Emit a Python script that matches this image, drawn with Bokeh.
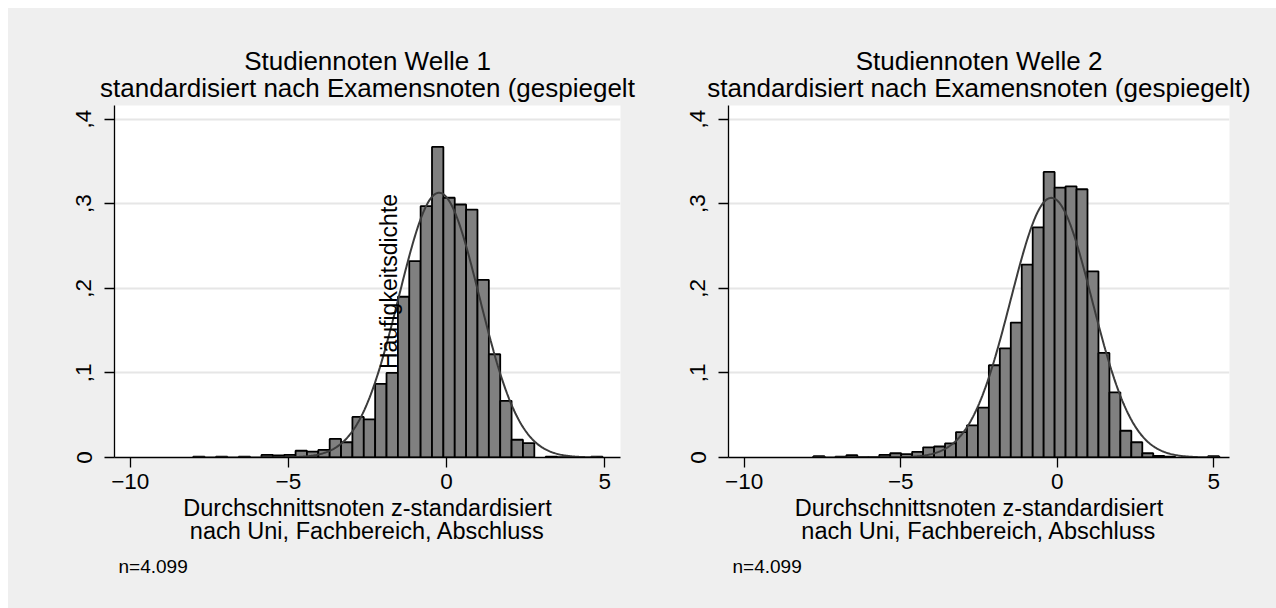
import numpy as np
from bokeh.plotting import figure
from bokeh.models import Range1d, FixedTicker, Label, ColumnDataSource, Title, LinearAxis
from bokeh.layouts import row
from bokeh.embed import file_html
from bokeh.resources import INLINE

FONT = "Liberation Sans"

# ---------------- data ----------------
x_ticks = [-10, -5, 0, 5]
y_ticks = [0, 0.1, 0.2, 0.3, 0.4]
y_tick_labels = ["0", ",1", ",2", ",3", ",4"]

titles_w1 = ["Studiennoten Welle 1", "standardisiert nach Examensnoten (gespiegelt"]
titles_w2 = ["Studiennoten Welle 2", "standardisiert nach Examensnoten (gespiegelt)"]
x_title = ["Durchschnittsnoten z-standardisiert", "nach Uni, Fachbereich, Abschluss"]
y_title = "Häufigkeitsdichte"
n_note = "n=4.099"

# Welle 1 histogram (density per bin)
w1_bin_start = -8.01
w1_bin_width = 0.3595
w1_density = [0.001, 0.0, 0.001, 0.0, 0.001, 0.0, 0.003, 0.0024, 0.003, 0.008,
              0.007, 0.009, 0.022, 0.018, 0.048, 0.045, 0.087, 0.100, 0.190, 0.232,
              0.297, 0.367, 0.307, 0.299, 0.293, 0.210, 0.122, 0.067, 0.021, 0.017,
              0.0, 0.001, 0.0005, 0.0, 0.0, 0.001]
w1_mean = -0.236
w1_sd = 1.275

# Welle 2 histogram (density per bin)
w2_bin_start = -7.785
w2_bin_width = 0.35
w2_density = [0.0015, 0.0, 0.001, 0.0028, 0.0005, 0.0005, 0.003, 0.005, 0.004, 0.0067,
              0.012, 0.013, 0.0166, 0.030, 0.038, 0.059, 0.109, 0.129, 0.1595, 0.228,
              0.272, 0.3375, 0.319, 0.3205, 0.317, 0.220, 0.1236, 0.077, 0.0316, 0.018,
              0.005, 0.002, 0.001, 0.0, 0.0, 0.0, 0.0015]
w2_mean = -0.19
w2_sd = 1.30

# ---------------- layout constants ----------------
X0, X1 = -10.5, 5.5
Y1 = 0.416
FIG_W, FIG_H = 634, 600
MB_TOP, FRAME_H = 97, 352
BG = "#efefef"
PAGE_OFF = 8


def make_panel(fig_left_page, mb_left, frame_w, y_standoff, bin_start, bin_width,
               density, mu, sd, titles, show_ytitle):
    mb_right = FIG_W - mb_left - frame_w
    mb_bottom = FIG_H - MB_TOP - FRAME_H
    p = figure(width=FIG_W, height=FIG_H, x_range=Range1d(X0, X1), y_range=Range1d(0, Y1),
               output_backend="svg", toolbar_location=None,
               min_border_left=mb_left, min_border_right=mb_right,
               min_border_top=MB_TOP, min_border_bottom=mb_bottom,
               background_fill_color="white", border_fill_color=BG,
               outline_line_color=None)

    frame_left = fig_left_page + mb_left
    frame_bottom = PAGE_OFF + MB_TOP + FRAME_H

    def dx(page_x):
        return X0 + (page_x - frame_left) * (X1 - X0) / frame_w

    def dy(page_y):
        return (frame_bottom - page_y) * Y1 / FRAME_H

    # grid
    p.xgrid.visible = False
    p.ygrid.ticker = FixedTicker(ticks=y_ticks[1:])
    p.ygrid.grid_line_color = "#e6e6e6"
    p.ygrid.grid_line_width = 2

    # histogram
    lefts, rights, tops = [], [], []
    for i, h in enumerate(density):
        if h > 0:
            lefts.append(bin_start + i * bin_width)
            rights.append(bin_start + (i + 1) * bin_width)
            tops.append(h)
    src = ColumnDataSource(dict(left=lefts, right=rights, top=tops, bottom=[0] * len(tops)))
    p.quad(left="left", right="right", top="top", bottom="bottom", source=src,
           fill_color="#808080", line_color="black", line_width=1.8)

    # normal density overlay
    xmin = bin_start
    xmax = bin_start + len(density) * bin_width
    xs = np.linspace(xmin, xmax, 400)
    ys = np.exp(-0.5 * ((xs - mu) / sd) ** 2) / (sd * np.sqrt(2 * np.pi))
    p.line(xs, ys, line_color="#3c3c3c", line_width=2)

    # axes
    for ax in (p.xaxis[0], p.yaxis[0]):
        ax.axis_line_color = "black"
        ax.axis_line_width = 1.3
        ax.major_tick_line_color = "black"
        ax.major_tick_line_width = 1.3
        ax.major_tick_out = 10
        ax.major_tick_in = 0
        ax.minor_tick_line_color = None
        ax.major_label_text_font = FONT
        ax.major_label_text_color = "black"
        ax.major_label_text_font_size = "22.5px"
    p.xaxis.ticker = FixedTicker(ticks=x_ticks)
    p.xaxis.major_label_standoff = 6
    p.xaxis.axis_label = x_title[0] + "\n" + x_title[1]
    p.xaxis.axis_label_text_font = FONT
    p.xaxis.axis_label_text_font_size = "23.5px"
    p.xaxis.axis_label_text_font_style = "normal"
    p.xaxis.axis_label_text_color = "black"
    p.xaxis.axis_label_text_line_height = 0.9
    p.xaxis.axis_label_standoff = 3
    p.yaxis.ticker = FixedTicker(ticks=y_ticks)
    p.yaxis.major_label_overrides = {t: lab for t, lab in zip(y_ticks, y_tick_labels)}
    p.yaxis.major_label_orientation = "vertical"
    p.yaxis.major_label_standoff = y_standoff

    # two-line centred title, carried by a bare axis above the frame
    p.title.visible = False
    top_ax = LinearAxis(ticker=FixedTicker(ticks=[]), axis_line_color=None,
                        major_tick_line_color=None, minor_tick_line_color=None,
                        major_tick_out=0, major_tick_in=0, major_label_standoff=0,
                        major_label_text_font_size="0px",
                        axis_label=titles[0] + "\n" + titles[1],
                        axis_label_text_font=FONT, axis_label_text_font_size="26px",
                        axis_label_text_font_style="normal", axis_label_text_color="black",
                        axis_label_text_line_height=0.9, axis_label_standoff=3)
    p.add_layout(top_ax, "above")
    # note below
    p.add_layout(Title(text=n_note, text_font=FONT, text_font_size="19px",
                       text_font_style="normal", text_color="black", align="left",
                       offset=4, standoff=14), "below")
    if show_ytitle:
        p.add_layout(Label(x=dx(388), y=dy(281), text=y_title, text_font=FONT,
                           text_font_size="23px", text_align="center",
                           text_baseline="middle", angle=np.pi / 2, angle_units="rad",
                           text_color="black"))
    return p


p1 = make_panel(PAGE_OFF, 106, 506, 13, w1_bin_start, w1_bin_width, w1_density,
                w1_mean, w1_sd, titles_w1, True)
p2 = make_panel(PAGE_OFF + FIG_W, 86, 501, 13, w2_bin_start, w2_bin_width, w2_density,
                w2_mean, w2_sd, titles_w2, False)

layout = row(p1, p2, margin=(PAGE_OFF, 0, 0, PAGE_OFF), styles={"background-color": BG})
open("out.html", "w").write(file_html(layout, INLINE))
